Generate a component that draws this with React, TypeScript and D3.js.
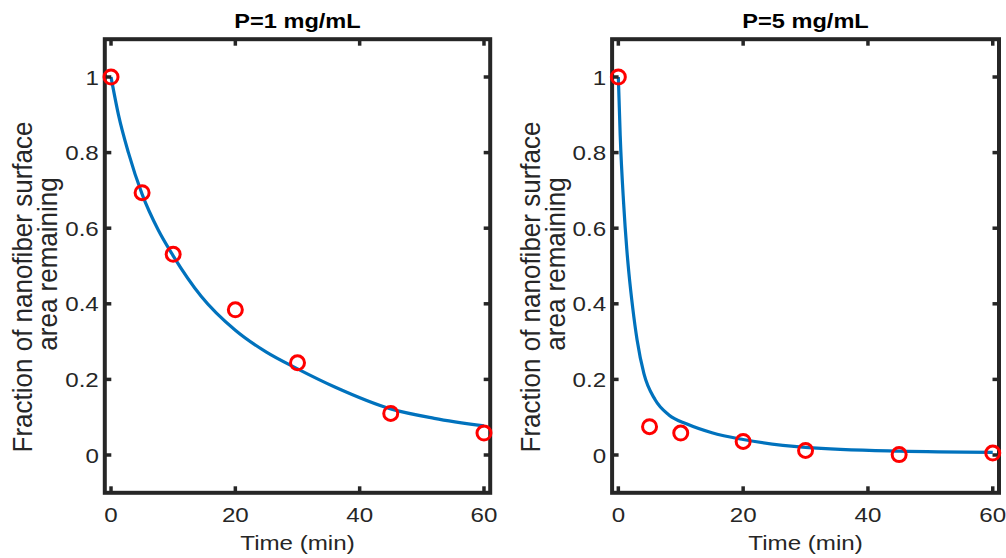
import * as d3 from 'd3'

// measured sample times (min)
const timeMin = [0, 5, 10, 20, 30, 45, 60]
// fraction of nanofiber surface area remaining
const fracP1 = [1.0, 0.694, 0.531, 0.384, 0.244, 0.11, 0.058]
const fracP5 = [1.0, 0.075, 0.058, 0.036, 0.012, 0.001, 0.005]

// fitted curves
const fitTimeP1 = [0, 1.2, 2.8, 5, 7.6, 10, 14.5, 20, 25, 30, 36, 45, 52, 60]
const fitP1 = [1.0, 0.9, 0.8, 0.69, 0.595, 0.527, 0.42, 0.33, 0.272, 0.228, 0.18, 0.122, 0.097, 0.077]
const fitTimeP5 = [0, 0.3, 0.85, 1.35, 1.7, 2.3, 3.0, 4.1, 5.9, 8.1, 11, 15, 20, 30, 45, 60]
const fitP5 = [1.0, 0.845, 0.665, 0.545, 0.48, 0.39, 0.305, 0.215, 0.146, 0.106, 0.082, 0.059, 0.041, 0.02, 0.01, 0.007]

const xTicks = [0, 20, 40, 60]
const yTicks = [0, 0.2, 0.4, 0.6, 0.8, 1]
const titles = ['P=1 mg/mL', 'P=5 mg/mL']
const yLabelLines = ['Fraction of nanofiber surface', 'area remaining']
const xLabel = 'Time (min)'

const W = 1006
const H = 558
const TOP = 39.2
const BOTTOM = 492.8
const FONT = '"Liberation Sans", Arial, Helvetica, sans-serif'
const AXIS = '#262626'
const BLUE = '#0072BD'
const RED = '#ff0000'

// text squeezed/stretched horizontally to follow the picture's proportions
function SText({ x, y, size, anchor = 'middle', weight = 'normal', rotate = 0, sx = 1.15, fill = AXIS, children }) {
  return (
    <g transform={`translate(${x},${y}) scale(${sx},1) rotate(${rotate})`}>
      <text x={0} y={0} textAnchor={anchor} fontFamily={FONT} fontSize={size} fontWeight={weight} fill={fill}>
        {children}
      </text>
    </g>
  )
}

function Panel({ left, right, title, values, fitT, fitV }) {
  const x = d3.scaleLinear().domain([-1, 61]).range([left, right])
  const y = d3.scaleLinear().domain([-0.1, 1.1]).range([BOTTOM, TOP])
  const line = d3.line<number>()
    .x((_, i) => x(fitT[i]))
    .y((d) => y(d))
    .curve(d3.curveMonotoneX)
  const cx = (left + right) / 2
  const tickLen = 6.5

  return (
    <g>
      <SText x={cx} y={28.3} size={20.5} weight="bold" fill="#000">{title}</SText>

      <path d={line(fitV) ?? ''} fill="none" stroke={BLUE} strokeWidth={3.2} />

      {/* ticks on all four sides, pointing in */}
      {xTicks.map((t) => (
        <g key={'xt' + t}>
          <line x1={x(t)} x2={x(t)} y1={BOTTOM} y2={BOTTOM - tickLen} stroke={AXIS} strokeWidth={3.5} />
          <line x1={x(t)} x2={x(t)} y1={TOP} y2={TOP + tickLen} stroke={AXIS} strokeWidth={3.5} />
          <SText x={x(t)} y={521.7} size={21}>{String(t)}</SText>
        </g>
      ))}
      {yTicks.map((v) => (
        <g key={'yt' + v}>
          <line x1={left} x2={left + tickLen} y1={y(v)} y2={y(v)} stroke={AXIS} strokeWidth={3.5} />
          <line x1={right} x2={right - tickLen} y1={y(v)} y2={y(v)} stroke={AXIS} strokeWidth={3.5} />
          <SText x={left - 6} y={y(v) + 7.5} size={21} anchor="end">{String(v)}</SText>
        </g>
      ))}

      <rect x={left} y={TOP} width={right - left} height={BOTTOM - TOP} fill="none" stroke={AXIS} strokeWidth={4} />

      {values.map((v, i) => (
        <circle key={i} cx={x(timeMin[i])} cy={y(v)} r={7} fill="none" stroke={RED} strokeWidth={3} />
      ))}

      <SText x={cx} y={550} size={21}>{xLabel}</SText>
      <SText x={left - 72.5} y={287} size={26} sx={1.04} rotate={-90}>{yLabelLines[0]}</SText>
      <SText x={left - 47.5} y={264} size={26} sx={1.04} rotate={-90}>{yLabelLines[1]}</SText>
    </g>
  )
}

export default function App() {
  return (
    <svg
      width={W}
      height={H}
      viewBox={`0 0 ${W} ${H}`}
      style={{ position: 'absolute', left: 0, top: 0, background: '#fff' }}
    >
      <rect width={W} height={H} fill="#fff" />
      <Panel left={104.8} right={490.2} title={titles[0]} values={fracP1} fitT={fitTimeP1} fitV={fitP1} />
      <Panel left={612.1} right={999} title={titles[1]} values={fracP5} fitT={fitTimeP5} fitV={fitP5} />
    </svg>
  )
}
